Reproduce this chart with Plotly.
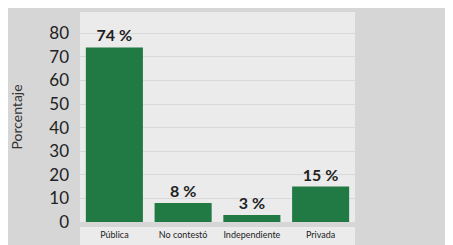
import plotly.graph_objects as go

categories = ["Pública", "No contestó", "Independiente", "Privada"]
values = [74, 8, 3, 15]
text_labels = ["74 %", "8 %", "3 %", "15 %"]
tick_vals = [0, 10, 20, 30, 40, 50, 60, 70, 80]

fig = go.Figure(go.Bar(
    x=categories, y=values, text=text_labels, textposition="outside",
    marker=dict(color="#217a43", line=dict(width=0)),
    width=0.83, cliponaxis=False,
    textfont=dict(family="Lato", size=16, color="#222222", weight="bold"),
))

fig.update_layout(
    width=445, height=237,
    margin=dict(l=72, r=98, t=4, b=23, autoexpand=False),
    paper_bgcolor="#d6d6d6", plot_bgcolor="#ebebeb",
    showlegend=False,
    shapes=[dict(type="rect", xref="paper", yref="paper", x0=0, x1=1,
                 y0=-0.2, y1=-0.024, fillcolor="#ebebeb", line=dict(width=0),
                 layer="below")],
)
fig.update_xaxes(
    range=[-0.5, 3.5], showgrid=False, zeroline=False, ticks="",
    tickfont=dict(family="Lato", size=9, color="#222222"),
    ticklabelstandoff=6, automargin=False,
)
fig.update_yaxes(
    range=[0, 89], tickvals=tick_vals, showgrid=True, gridcolor="#d9d9d9",
    gridwidth=1, zeroline=False, ticks="",
    tickfont=dict(family="Lato", size=17, color="#222222"),
    ticklabelstandoff=10, automargin=False,
    title=dict(text="Porcentaje", font=dict(family="Lato", size=14, color="#333333"),
               standoff=28),
)

fig.write_html("out.html")
